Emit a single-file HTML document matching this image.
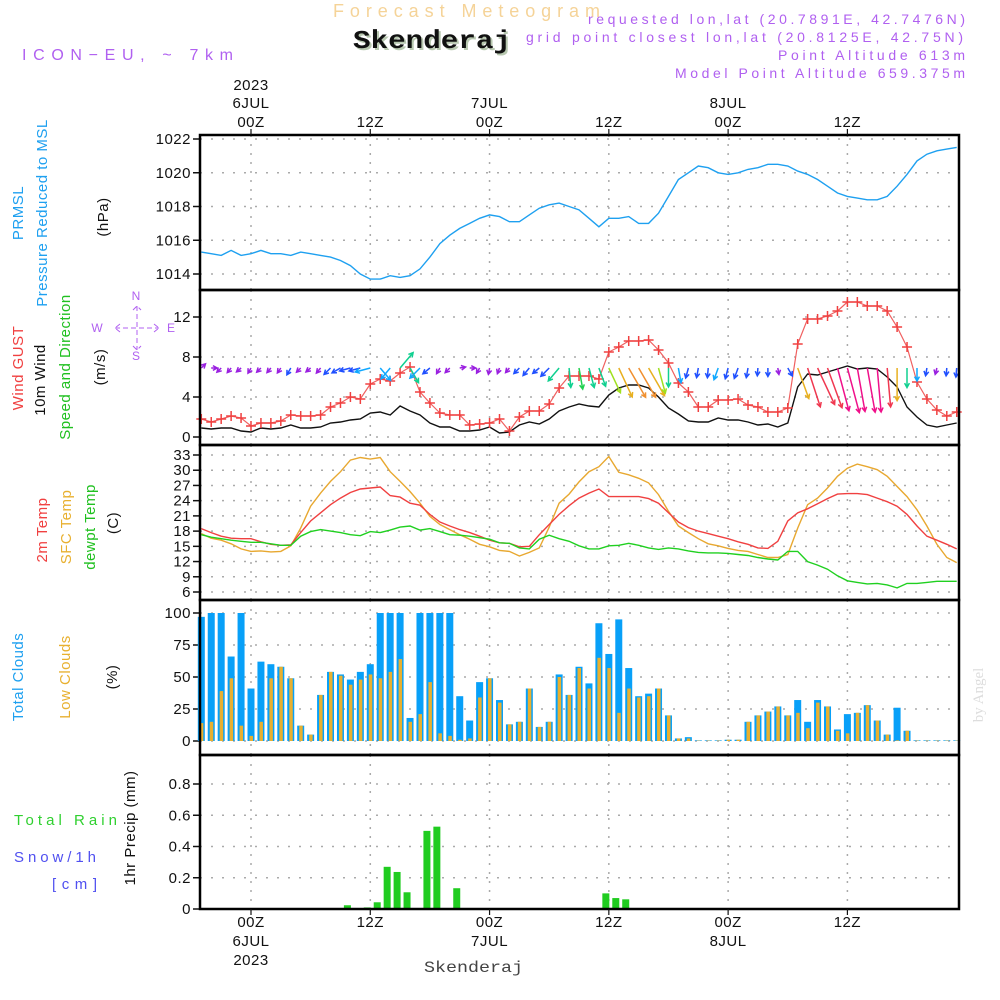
<!DOCTYPE html>
<html><head><meta charset="utf-8"><style>
html,body{margin:0;padding:0;background:#fff;}
svg{display:block;font-family:"Liberation Sans",sans-serif;}
.t{font-size:15px;fill:#222;}
.tk{font-size:15px;fill:#111;letter-spacing:0.5px;}
</style></head><body>
<svg id="chart" width="1000" height="1000" viewBox="0 0 1000 1000">
<text x="333" y="17" font-size="18" fill="#f5d398" textLength="267" lengthAdjust="spacing">Forecast Meteogram</text>
<text x="355" y="50" font-family="Liberation Mono,monospace" font-weight="bold" font-size="26" fill="#b8c8b0" textLength="158" lengthAdjust="spacingAndGlyphs">Skenderaj</text>
<text x="353" y="48" font-family="Liberation Mono,monospace" font-weight="bold" font-size="26" fill="#111" textLength="158" lengthAdjust="spacingAndGlyphs">Skenderaj</text>
<g font-size="14" fill="#b060f0">
<text x="588" y="24" textLength="377" lengthAdjust="spacing">requested lon,lat (20.7891E, 42.7476N)</text>
<text x="526" y="42" textLength="437" lengthAdjust="spacing">grid point closest lon,lat (20.8125E, 42.75N)</text>
<text x="778" y="60" textLength="187" lengthAdjust="spacing">Point Altitude 613m</text>
<text x="675" y="78" textLength="290" lengthAdjust="spacing">Model Point Altitude 659.375m</text>
</g>
<text x="22" y="60" font-size="16" fill="#b060f0" textLength="211" lengthAdjust="spacing">ICON−EU, ~ 7km</text>

<g font-size="15" letter-spacing="0.5" text-anchor="middle">
<text transform="translate(23,213) rotate(-90)" fill="#1ea0f0">PRMSL</text>
<text transform="translate(47,213) rotate(-90)" fill="#1ea0f0">Pressure Reduced to MSL</text>
<text transform="translate(108,217) rotate(-90)" fill="#111">(hPa)</text>
<text transform="translate(23,368) rotate(-90)" fill="#f04040">Wind GUST</text>
<text transform="translate(45,380) rotate(-90)" fill="#111">10m Wind</text>
<text transform="translate(70,367) rotate(-90)" fill="#20c020">Speed and Direction</text>
<text transform="translate(105,367) rotate(-90)" fill="#111">(m/s)</text>
<text transform="translate(47,530) rotate(-90)" fill="#f04040">2m Temp</text>
<text transform="translate(71,527) rotate(-90)" fill="#e8b030">SFC Temp</text>
<text transform="translate(95,527) rotate(-90)" fill="#20c020">dewpt Temp</text>
<text transform="translate(118,523) rotate(-90)" fill="#111">(C)</text>
<text transform="translate(23,677) rotate(-90)" fill="#1ea0f0">Total Clouds</text>
<text transform="translate(70,677) rotate(-90)" fill="#e8b030">Low Clouds</text>
<text transform="translate(117,677) rotate(-90)" fill="#111">(%)</text>
<text transform="translate(135,828) rotate(-90)" fill="#111">1hr Precip (mm)</text>
</g>
<g font-size="15">
<text x="14" y="825" fill="#30d030" textLength="103" lengthAdjust="spacing">Total  Rain</text>
<text x="14" y="862" fill="#5050f0" textLength="82" lengthAdjust="spacing">Snow/1h</text>
<text x="52" y="889" fill="#5050f0" textLength="45" lengthAdjust="spacing">[cm]</text>
</g>
<g font-size="12" fill="#b060f0" text-anchor="middle">
<text x="136" y="300">N</text><text x="136" y="360">S</text><text x="97" y="332">W</text><text x="171" y="332">E</text>
<path d="M115 328 H159 M137 306 V350 M120 324 L115 328 L120 332 M154 324 L159 328 L154 332 M133 310 L137 306 L141 310 M133 346 L137 350 L141 346" stroke="#b060f0" stroke-width="1" fill="none" stroke-dasharray="5 3"/>
</g>
<text transform="translate(983,695) rotate(-90)" font-family="Liberation Serif,serif" font-size="15" fill="#ddd" text-anchor="middle">by Angel</text>
<text x="424" y="972" font-family="Liberation Mono,monospace" font-size="16" fill="#444" textLength="99" lengthAdjust="spacingAndGlyphs">Skenderaj</text>
<g id="plots"></g>
</svg>
<script>
const hours = [];
for (let h = -5; h <= 71; h++) hours.push(h);
const pressure = [1015.3,1015.2,1015.1,1015.4,1015.1,1015.2,1015.4,1015.2,1015.2,1015.1,
1015.3,1015.2,1015.1,1015.0,1014.8,1014.5,1014.0,1013.7,1013.7,1013.9,
1013.8,1013.9,1014.3,1015.0,1015.8,1016.3,1016.7,1017.0,1017.3,1017.5,
1017.4,1017.1,1017.1,1017.5,1017.9,1018.1,1018.2,1018.0,1017.8,1017.3,
1016.8,1017.3,1017.3,1017.4,1017.0,1017.0,1017.6,1018.6,1019.6,1020.0,
1020.4,1020.3,1020.0,1019.9,1020.0,1020.2,1020.3,1020.5,1020.5,1020.4,
1020.1,1019.9,1019.6,1019.2,1018.8,1018.6,1018.5,1018.4,1018.4,1018.6,
1019.2,1019.9,1020.7,1021.1,1021.3,1021.4,1021.5];
const gust = [1.8,1.5,1.8,2.1,1.9,1.1,1.4,1.4,1.6,2.2,
2.1,2.1,2.2,3.0,3.4,4.0,3.8,5.3,5.8,5.6,
6.4,7.0,4.5,3.4,2.4,2.2,2.2,1.2,1.3,1.4,
1.8,0.6,2.0,2.6,2.6,3.3,4.9,6.1,6.1,6.1,
5.8,8.5,9.0,9.6,9.6,9.7,8.7,7.4,5.4,4.5,
3.0,3.0,3.7,3.7,3.8,3.2,3.0,2.5,2.5,2.9,
9.3,11.8,11.8,12.1,12.6,13.5,13.5,13.1,13.1,12.6,
11.0,9.0,5.5,3.8,2.7,2.1,2.5];
const wind = [0.9,0.8,0.9,0.9,0.6,0.5,0.9,0.8,0.9,1.2,
0.9,0.9,1.0,1.4,1.5,1.7,1.8,2.4,2.5,2.2,
3.1,2.6,2.2,1.4,1.0,1.0,0.6,0.6,0.7,1.0,
0.4,0.5,1.2,1.5,1.3,1.8,2.6,3.0,3.3,3.1,
3.0,4.2,4.9,5.2,5.2,4.9,4.0,2.9,2.3,1.6,
1.5,1.5,1.9,1.7,1.7,1.5,1.2,1.3,1.0,1.4,
5.0,6.3,6.2,6.5,6.8,7.1,6.8,6.9,6.8,6.0,
5.0,3.0,2.0,1.2,1.0,1.2,1.4];
const windDir = [225,270,45,40,50,30,45,40,35,30,
45,50,40,45,60,75,75,75,320,40,
220,330,45,50,30,45,260,270,30,10,
20,40,45,40,50,45,40,355,350,345,
340,335,335,330,330,330,345,0,350,15,
10,5,20,15,20,10,5,0,350,330,
340,342,335,340,345,345,350,350,355,355,
0,0,0,10,15,5,5];
const temp2m = [18.5,17.7,17.0,16.6,16.5,16.5,15.9,15.4,15.2,15.3,
17.7,20.0,21.6,23.2,24.5,25.6,26.3,26.5,26.7,25.0,
24.7,23.5,23.1,21.3,19.8,19.0,18.3,17.7,17.0,16.2,
15.7,15.6,14.9,15.0,17.3,19.3,21.3,23.0,24.5,25.5,
26.3,24.8,24.8,24.8,24.8,24.4,23.5,21.6,19.8,18.7,
18.0,17.5,17.0,16.5,15.9,15.4,14.7,14.6,16.0,20.0,
21.6,22.4,23.4,24.4,25.3,25.4,25.4,25.2,24.5,23.8,
22.9,21.3,19.0,17.0,16.2,15.4,14.5];
const tempSfc = [17.5,16.6,16.2,15.5,14.5,14.0,14.1,13.9,14.0,15.1,
18.6,22.9,25.5,27.8,29.7,32.0,32.5,32.2,32.5,29.7,
27.8,25.8,23.5,20.9,19.3,18.3,17.3,16.4,15.4,14.9,
14.2,14.0,13.1,13.8,14.7,18.8,23.5,25.3,27.7,29.7,
30.7,32.7,29.6,29.1,28.4,27.5,25.2,21.9,19.0,17.7,
16.5,15.5,15.1,14.6,14.2,14.0,13.4,12.8,12.8,13.4,
18.6,23.2,24.5,26.5,28.8,30.4,31.2,30.7,30.1,28.8,
26.8,24.8,22.2,19.0,15.4,12.8,11.8];
const dewpt = [17.3,16.8,16.5,16.2,16.0,15.8,15.8,15.5,15.2,15.2,
17.0,17.9,18.3,18.0,17.7,17.3,17.1,17.9,17.7,18.2,
18.8,19.0,18.2,18.5,17.9,17.3,17.2,17.0,16.7,16.4,
15.7,15.6,14.7,14.5,16.4,17.2,16.5,16.0,15.1,14.5,
14.5,15.1,15.2,15.6,15.2,14.7,14.4,14.7,14.5,14.1,
13.8,13.7,13.7,13.6,13.4,13.2,12.8,12.5,12.3,14.0,
14.0,12.0,11.3,10.5,9.2,8.2,7.9,7.6,7.7,7.4,
6.8,7.7,7.7,7.9,8.1,8.1,8.1];
const totalClouds = [97,100,100,66,100,41,62,60,58,49,
12,5,36,54,52,48,54,60,100,100,
100,18,100,100,100,100,35,16,46,49,
32,13,15,41,11,15,52,36,58,45,
92,68,95,57,35,37,41,20,2,3,
0.5,0.5,0.5,1,1,15,20,23,27,20,
32,15,32,27,9,21,22,28,16,5,
26,8,0.5,0.5,0.5,0.5,0.5];
const lowClouds = [14,15,39,49,12,4,15,49,58,49,
12,5,36,54,51,44,48,52,49,54,
64,15,21,46,6,4,1,2,34,49,
30,13,15,41,11,15,50,36,57,41,
65,57,22,41,34,35,41,20,2,2,
0.3,0.3,0.3,1,1,15,20,23,27,20,
22,10,30,27,8,6,22,28,16,5,
0.5,8,0.3,0.3,0.3,0.3,0.3];
const precip = [0,0,0,0,0,0,0,0,0,0,
0,0,0,0,0,0.024,0,0.01,0.043,0.27,
0.237,0.107,0,0.50,0.527,0,0.133,0,0,0,
0,0,0,0,0,0,0,0,0,0,
0,0.10,0.07,0.062,0,0,0,0,0,0,
0,0,0,0,0,0,0,0,0,0,
0,0,0,0,0,0,0,0,0,0,
0,0,0,0,0,0,0];
const pressTicks = [1014,1016,1018,1020,1022];
const windTicks = [0,4,8,12];
const tempTicks = [6,9,12,15,18,21,24,27,30,33];
const cloudTicks = [0,25,50,75,100];
const precipTicks = [0,0.2,0.4,0.6,0.8];
const timeTicks = [0,12,24,36,48,60];
const topLabels = [["2023","6JUL","00Z"],["","","12Z"],["","7JUL","00Z"],["","","12Z"],["","8JUL","00Z"],["","","12Z"]];
const bottomLabels = [["00Z","6JUL","2023"],["12Z","",""],["00Z","7JUL",""],["12Z","",""],["00Z","8JUL",""],["12Z","",""]];

const NS = "http://www.w3.org/2000/svg";
const root = document.getElementById("plots");
const L = 200, R = 959;
function X(h){ return 251 + 9.94*h; }
function lin(d0,d1,p0,p1){ return v => p0 + (v-d0)*(p1-p0)/(d1-d0); }
const yP = lin(1014,1022,274,139);
const yW = lin(0,12,437,317);
const yT = lin(6,33,592,455);
const yC = lin(0,100,741,613);
const yR = lin(0,0.8,909,784);
function mk(tag, attrs, parent){
  const e = document.createElementNS(NS, tag);
  for (const k in attrs) e.setAttribute(k, attrs[k]);
  (parent||root).appendChild(e);
  return e;
}
const panels = [[135,290,yP,pressTicks,"pressure"],[290,445,yW,windTicks,"wind"],[445,600,yT,tempTicks,"temperature"],[600,755,yC,cloudTicks,"clouds"],[755,909,yR,precipTicks,"precip"]];
panels.forEach(p => {
  const [top,bot,ys,ticks,nm] = p;
  ticks.forEach(v => {
    const y = ys(v);
    const g = mk("line",{x1:L,x2:R,y1:y,y2:y,stroke:"#aaa","stroke-width":1.5,"stroke-dasharray":"2 9"});
    
    
    const tk = mk("line",{x1:L-7,x2:L,y1:y,y2:y,stroke:"#111","stroke-width":1.5});
    
    
    const t = mk("text",{x:L-9,y:y+5,"text-anchor":"end",class:"tk"});
    t.textContent = (nm==="precip" && v===0) ? "0" : String(v);
    
    
  });
  timeTicks.forEach(h => {
    const g = mk("line",{x1:X(h),x2:X(h),y1:top,y2:bot,stroke:"#aaa","stroke-width":1.5,"stroke-dasharray":"2 7"});
    
    
  });
});
function line(arr, ys, color, nm, w){
  const d = arr.map((v,i)=> (i?"L":"M")+X(hours[i]).toFixed(1)+" "+ys(v).toFixed(1)).join(" ");
  const p = mk("path",{d:d,fill:"none",stroke:color,"stroke-width":w||1.4});
  
  
}
line(pressure, yP, "#1ea0f0", "pressure-line");
totalClouds.forEach((v,i)=>{
  const x = X(hours[i]);
  const b = mk("rect",{x:x-3.5,y:yC(v),width:7,height:yC(0)-yC(v),fill:"#08a0f8"});
  
  
});
lowClouds.forEach((v,i)=>{
  const x = X(hours[i]);
  const b = mk("rect",{x:x-1.5,y:yC(v),width:3.5,height:yC(0)-yC(v),fill:"#e8b030"});
  
  
});
precip.forEach((v,i)=>{
  if (v<=0) return;
  const x = X(hours[i])-3;
  const b = mk("rect",{x:x-3.5,y:yR(v),width:7,height:yR(0)-yR(v),fill:"#20cc20"});
  
  
});
line(tempSfc, yT, "#e8a830", "sfc-temp-line");
line(temp2m, yT, "#f04040", "t2m-line");
line(dewpt, yT, "#20d020", "dewpt-line");
line(wind, yW, "#111", "wind-speed-line");
line(gust, yW, "#f06060", "gust-line", 1.2);
gust.forEach((v,i)=>{
  const x = X(hours[i]), y = yW(v);
  const m = mk("path",{d:`M${x-5} ${y} H${x+5} M${x} ${y-5} V${y+5}`,stroke:"#f04040","stroke-width":1.5});
  
  
});
function wcol(s){
  if (s<1.1) return "#9a20e0";
  if (s<1.9) return "#2050ff";
  if (s<2.6) return "#10a8ff";
  if (s<3.2) return "#10d090";
  if (s<3.8) return "#20d050";
  if (s<4.5) return "#a0e020";
  if (s<5.1) return "#e8b020";
  if (s<5.6) return "#f09030";
  if (s<6.6) return "#f03850";
  return "#f0108a";
}
wind.forEach((s,i)=>{
  const x0 = X(hours[i]), y0 = 368;
  const a = (windDir[i]+180)*Math.PI/180;
  const len = Math.max(6, s*6.5);
  const x1 = x0 + len*Math.sin(a), y1 = y0 - len*Math.cos(a);
  const ha = Math.atan2(y1-y0, x1-x0);
  const hl = 5;
  const d = `M${x0.toFixed(1)} ${y0} L${x1.toFixed(1)} ${y1.toFixed(1)} M${(x1-hl*Math.cos(ha-0.5)).toFixed(1)} ${(y1-hl*Math.sin(ha-0.5)).toFixed(1)} L${x1.toFixed(1)} ${y1.toFixed(1)} L${(x1-hl*Math.cos(ha+0.5)).toFixed(1)} ${(y1-hl*Math.sin(ha+0.5)).toFixed(1)}`;
  const p = mk("path",{d:d,stroke:wcol(s),"stroke-width":1.5,fill:"none"});
  
  
});
panels.forEach(p=>{
  const f = mk("rect",{x:L,y:p[0],width:R-L,height:p[1]-p[0],fill:"none",stroke:"#000","stroke-width":2.5});
  
  
});
timeTicks.forEach((h,k)=>{
  const x = X(h);
  const tt = mk("line",{x1:x,x2:x,y1:129,y2:135,stroke:"#111","stroke-width":1.2});
  
  
  const bt = mk("line",{x1:x,x2:x,y1:909,y2:915,stroke:"#111","stroke-width":1.2});
  
  
  [90,108,127].forEach((y,j)=>{
    if (!topLabels[k][j]) return;
    const t = mk("text",{x:x,y:y,"text-anchor":"middle",class:"tk"});
    t.textContent = topLabels[k][j];
    
    
  });
  [927,946,965].forEach((y,j)=>{
    if (!bottomLabels[k][j]) return;
    const t = mk("text",{x:x,y:y,"text-anchor":"middle",class:"tk"});
    t.textContent = bottomLabels[k][j];
    
    
  });
});
</script>
</body></html>
